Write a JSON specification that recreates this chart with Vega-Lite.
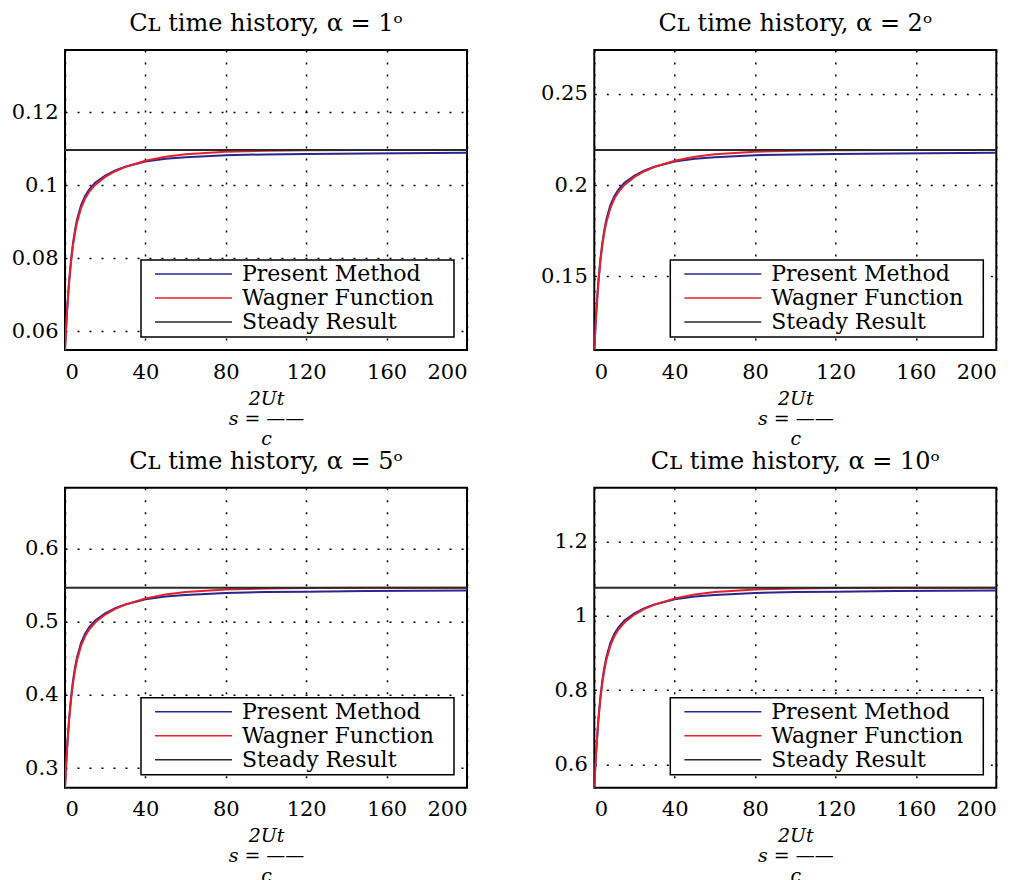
{
  "$schema": "https://vega.github.io/schema/vega-lite/v6.json",
  "background": "white",
  "padding": {"left": 10, "top": 11, "right": 5, "bottom": 0},
  "bounds": "flush",
  "columns": 2,
  "spacing": {"row": 137.7, "column": 127.3},
  "config": {
    "font": "DejaVu Serif",
    "view": {"stroke": "black", "strokeWidth": 2},
    "title": {"font": "DejaVu Serif", "fontSize": 24, "fontWeight": "normal", "color": "black", "offset": 14, "anchor": "middle"},
    "axis": {
      "labelFont": "DejaVu Serif", "labelFontSize": 21, "labelColor": "black",
      "titleFont": "DejaVu Serif", "titleFontSize": 19, "titleColor": "black", "titleFontWeight": "normal",
      "grid": true, "gridColor": "black", "gridDash": [2, 10], "gridWidth": 1.5, "gridOpacity": 1,
      "domain": false, "ticks": false
    },
    "axisX": {"labelPadding": 11},
    "axisY": {"labelPadding": 7},
    "legend": {
      "orient": "bottom-right", "offset": 13,
      "strokeColor": "black", "fillColor": "white", "strokeWidth": 1.5, "padding": 4,
      "labelFont": "DejaVu Serif", "labelFontSize": 22, "labelColor": "black", "labelLimit": 400,
      "symbolType": "M-0.79,0H1", "symbolSize": 7396, "symbolStrokeWidth": 1.5,
      "clipHeight": 20, "rowPadding": 2, "labelOffset": 9
    }
  },
  "resolve": {
    "scale": {"x": "independent", "y": "independent", "color": "independent"},
    "legend": {"color": "independent"}
  },
  "datasets": {
    "d": [
      {"a":1,"g":"Present Method","s":0,"v":0.0548},
      {"a":1,"g":"Present Method","s":0.5,"v":0.06050},
      {"a":1,"g":"Present Method","s":1,"v":0.06543},
      {"a":1,"g":"Present Method","s":2,"v":0.07343},
      {"a":1,"g":"Present Method","s":3,"v":0.07957},
      {"a":1,"g":"Present Method","s":4,"v":0.08417},
      {"a":1,"g":"Present Method","s":5,"v":0.08779},
      {"a":1,"g":"Present Method","s":6,"v":0.09053},
      {"a":1,"g":"Present Method","s":8,"v":0.09448},
      {"a":1,"g":"Present Method","s":10,"v":0.09700},
      {"a":1,"g":"Present Method","s":12,"v":0.09875},
      {"a":1,"g":"Present Method","s":15,"v":0.10061},
      {"a":1,"g":"Present Method","s":20,"v":0.10259},
      {"a":1,"g":"Present Method","s":25,"v":0.10401},
      {"a":1,"g":"Present Method","s":30,"v":0.10500},
      {"a":1,"g":"Present Method","s":40,"v":0.10642},
      {"a":1,"g":"Present Method","s":50,"v":0.10719},
      {"a":1,"g":"Present Method","s":60,"v":0.10763},
      {"a":1,"g":"Present Method","s":80,"v":0.10818},
      {"a":1,"g":"Present Method","s":100,"v":0.10839},
      {"a":1,"g":"Present Method","s":120,"v":0.10850},
      {"a":1,"g":"Present Method","s":150,"v":0.10867},
      {"a":1,"g":"Present Method","s":200,"v":0.10883},
      {"a":1,"g":"Wagner Function","s":0,"v":0.0548},
      {"a":1,"g":"Wagner Function","s":0.5,"v":0.06032},
      {"a":1,"g":"Wagner Function","s":1,"v":0.06512},
      {"a":1,"g":"Wagner Function","s":2,"v":0.07294},
      {"a":1,"g":"Wagner Function","s":3,"v":0.07890},
      {"a":1,"g":"Wagner Function","s":4,"v":0.08347},
      {"a":1,"g":"Wagner Function","s":5,"v":0.08700},
      {"a":1,"g":"Wagner Function","s":6,"v":0.08976},
      {"a":1,"g":"Wagner Function","s":8,"v":0.09371},
      {"a":1,"g":"Wagner Function","s":10,"v":0.09629},
      {"a":1,"g":"Wagner Function","s":12,"v":0.09812},
      {"a":1,"g":"Wagner Function","s":15,"v":0.10005},
      {"a":1,"g":"Wagner Function","s":20,"v":0.10223},
      {"a":1,"g":"Wagner Function","s":25,"v":0.10378},
      {"a":1,"g":"Wagner Function","s":30,"v":0.10497},
      {"a":1,"g":"Wagner Function","s":40,"v":0.10667},
      {"a":1,"g":"Wagner Function","s":50,"v":0.10774},
      {"a":1,"g":"Wagner Function","s":60,"v":0.10842},
      {"a":1,"g":"Wagner Function","s":80,"v":0.10913},
      {"a":1,"g":"Wagner Function","s":100,"v":0.10941},
      {"a":1,"g":"Wagner Function","s":120,"v":0.10952},
      {"a":1,"g":"Wagner Function","s":150,"v":0.10958},
      {"a":1,"g":"Wagner Function","s":200,"v":0.1096},
      {"a":1,"g":"Steady Result","s":0,"v":0.1096},
      {"a":1,"g":"Steady Result","s":200,"v":0.1096},

      {"a":2,"g":"Present Method","s":0,"v":0.1096},
      {"a":2,"g":"Present Method","s":0.5,"v":0.12100},
      {"a":2,"g":"Present Method","s":1,"v":0.13086},
      {"a":2,"g":"Present Method","s":2,"v":0.14686},
      {"a":2,"g":"Present Method","s":3,"v":0.15914},
      {"a":2,"g":"Present Method","s":4,"v":0.16834},
      {"a":2,"g":"Present Method","s":5,"v":0.17558},
      {"a":2,"g":"Present Method","s":6,"v":0.18106},
      {"a":2,"g":"Present Method","s":8,"v":0.18896},
      {"a":2,"g":"Present Method","s":10,"v":0.19400},
      {"a":2,"g":"Present Method","s":12,"v":0.19750},
      {"a":2,"g":"Present Method","s":15,"v":0.20122},
      {"a":2,"g":"Present Method","s":20,"v":0.20518},
      {"a":2,"g":"Present Method","s":25,"v":0.20802},
      {"a":2,"g":"Present Method","s":30,"v":0.21000},
      {"a":2,"g":"Present Method","s":40,"v":0.21284},
      {"a":2,"g":"Present Method","s":50,"v":0.21438},
      {"a":2,"g":"Present Method","s":60,"v":0.21526},
      {"a":2,"g":"Present Method","s":80,"v":0.21636},
      {"a":2,"g":"Present Method","s":100,"v":0.21678},
      {"a":2,"g":"Present Method","s":120,"v":0.21700},
      {"a":2,"g":"Present Method","s":150,"v":0.21734},
      {"a":2,"g":"Present Method","s":200,"v":0.21766},
      {"a":2,"g":"Wagner Function","s":0,"v":0.1096},
      {"a":2,"g":"Wagner Function","s":0.5,"v":0.12064},
      {"a":2,"g":"Wagner Function","s":1,"v":0.13024},
      {"a":2,"g":"Wagner Function","s":2,"v":0.14588},
      {"a":2,"g":"Wagner Function","s":3,"v":0.15780},
      {"a":2,"g":"Wagner Function","s":4,"v":0.16694},
      {"a":2,"g":"Wagner Function","s":5,"v":0.17400},
      {"a":2,"g":"Wagner Function","s":6,"v":0.17952},
      {"a":2,"g":"Wagner Function","s":8,"v":0.18742},
      {"a":2,"g":"Wagner Function","s":10,"v":0.19258},
      {"a":2,"g":"Wagner Function","s":12,"v":0.19624},
      {"a":2,"g":"Wagner Function","s":15,"v":0.20010},
      {"a":2,"g":"Wagner Function","s":20,"v":0.20446},
      {"a":2,"g":"Wagner Function","s":25,"v":0.20756},
      {"a":2,"g":"Wagner Function","s":30,"v":0.20994},
      {"a":2,"g":"Wagner Function","s":40,"v":0.21334},
      {"a":2,"g":"Wagner Function","s":50,"v":0.21548},
      {"a":2,"g":"Wagner Function","s":60,"v":0.21684},
      {"a":2,"g":"Wagner Function","s":80,"v":0.21826},
      {"a":2,"g":"Wagner Function","s":100,"v":0.21882},
      {"a":2,"g":"Wagner Function","s":120,"v":0.21904},
      {"a":2,"g":"Wagner Function","s":150,"v":0.21916},
      {"a":2,"g":"Wagner Function","s":200,"v":0.2192},
      {"a":2,"g":"Steady Result","s":0,"v":0.2192},
      {"a":2,"g":"Steady Result","s":200,"v":0.2192},

      {"a":5,"g":"Present Method","s":0,"v":0.2732},
      {"a":5,"g":"Present Method","s":0.5,"v":0.30161},
      {"a":5,"g":"Present Method","s":1,"v":0.32620},
      {"a":5,"g":"Present Method","s":2,"v":0.36609},
      {"a":5,"g":"Present Method","s":3,"v":0.39669},
      {"a":5,"g":"Present Method","s":4,"v":0.41964},
      {"a":5,"g":"Present Method","s":5,"v":0.43767},
      {"a":5,"g":"Present Method","s":6,"v":0.45133},
      {"a":5,"g":"Present Method","s":8,"v":0.47100},
      {"a":5,"g":"Present Method","s":10,"v":0.48356},
      {"a":5,"g":"Present Method","s":12,"v":0.49231},
      {"a":5,"g":"Present Method","s":15,"v":0.50160},
      {"a":5,"g":"Present Method","s":20,"v":0.51143},
      {"a":5,"g":"Present Method","s":25,"v":0.51853},
      {"a":5,"g":"Present Method","s":30,"v":0.52345},
      {"a":5,"g":"Present Method","s":40,"v":0.53055},
      {"a":5,"g":"Present Method","s":50,"v":0.53438},
      {"a":5,"g":"Present Method","s":60,"v":0.53656},
      {"a":5,"g":"Present Method","s":80,"v":0.53930},
      {"a":5,"g":"Present Method","s":100,"v":0.54039},
      {"a":5,"g":"Present Method","s":120,"v":0.54094},
      {"a":5,"g":"Present Method","s":150,"v":0.54176},
      {"a":5,"g":"Present Method","s":200,"v":0.54258},
      {"a":5,"g":"Wagner Function","s":0,"v":0.2732},
      {"a":5,"g":"Wagner Function","s":0.5,"v":0.30074},
      {"a":5,"g":"Wagner Function","s":1,"v":0.32467},
      {"a":5,"g":"Wagner Function","s":2,"v":0.36363},
      {"a":5,"g":"Wagner Function","s":3,"v":0.39335},
      {"a":5,"g":"Wagner Function","s":4,"v":0.41614},
      {"a":5,"g":"Wagner Function","s":5,"v":0.43373},
      {"a":5,"g":"Wagner Function","s":6,"v":0.44750},
      {"a":5,"g":"Wagner Function","s":8,"v":0.46717},
      {"a":5,"g":"Wagner Function","s":10,"v":0.48007},
      {"a":5,"g":"Wagner Function","s":12,"v":0.48919},
      {"a":5,"g":"Wagner Function","s":15,"v":0.49881},
      {"a":5,"g":"Wagner Function","s":20,"v":0.50968},
      {"a":5,"g":"Wagner Function","s":25,"v":0.51739},
      {"a":5,"g":"Wagner Function","s":30,"v":0.52334},
      {"a":5,"g":"Wagner Function","s":40,"v":0.53181},
      {"a":5,"g":"Wagner Function","s":50,"v":0.53711},
      {"a":5,"g":"Wagner Function","s":60,"v":0.54050},
      {"a":5,"g":"Wagner Function","s":80,"v":0.54405},
      {"a":5,"g":"Wagner Function","s":100,"v":0.54547},
      {"a":5,"g":"Wagner Function","s":120,"v":0.54602},
      {"a":5,"g":"Wagner Function","s":150,"v":0.54629},
      {"a":5,"g":"Wagner Function","s":200,"v":0.5464},
      {"a":5,"g":"Steady Result","s":0,"v":0.5464},
      {"a":5,"g":"Steady Result","s":200,"v":0.5464},

      {"a":10,"g":"Present Method","s":0,"v":0.53775},
      {"a":10,"g":"Present Method","s":0.5,"v":0.59368},
      {"a":10,"g":"Present Method","s":1,"v":0.64207},
      {"a":10,"g":"Present Method","s":2,"v":0.72059},
      {"a":10,"g":"Present Method","s":3,"v":0.78081},
      {"a":10,"g":"Present Method","s":4,"v":0.82598},
      {"a":10,"g":"Present Method","s":5,"v":0.86148},
      {"a":10,"g":"Present Method","s":6,"v":0.88836},
      {"a":10,"g":"Present Method","s":8,"v":0.92708},
      {"a":10,"g":"Present Method","s":10,"v":0.95182},
      {"a":10,"g":"Present Method","s":12,"v":0.96903},
      {"a":10,"g":"Present Method","s":15,"v":0.98731},
      {"a":10,"g":"Present Method","s":20,"v":1.00667},
      {"a":10,"g":"Present Method","s":25,"v":1.02065},
      {"a":10,"g":"Present Method","s":30,"v":1.03033},
      {"a":10,"g":"Present Method","s":40,"v":1.04431},
      {"a":10,"g":"Present Method","s":50,"v":1.05184},
      {"a":10,"g":"Present Method","s":60,"v":1.05614},
      {"a":10,"g":"Present Method","s":80,"v":1.06152},
      {"a":10,"g":"Present Method","s":100,"v":1.06367},
      {"a":10,"g":"Present Method","s":120,"v":1.06475},
      {"a":10,"g":"Present Method","s":150,"v":1.06636},
      {"a":10,"g":"Present Method","s":200,"v":1.06797},
      {"a":10,"g":"Wagner Function","s":0,"v":0.53775},
      {"a":10,"g":"Wagner Function","s":0.5,"v":0.59196},
      {"a":10,"g":"Wagner Function","s":1,"v":0.63906},
      {"a":10,"g":"Wagner Function","s":2,"v":0.71575},
      {"a":10,"g":"Wagner Function","s":3,"v":0.77425},
      {"a":10,"g":"Wagner Function","s":4,"v":0.81910},
      {"a":10,"g":"Wagner Function","s":5,"v":0.85373},
      {"a":10,"g":"Wagner Function","s":6,"v":0.88083},
      {"a":10,"g":"Wagner Function","s":8,"v":0.91955},
      {"a":10,"g":"Wagner Function","s":10,"v":0.94494},
      {"a":10,"g":"Wagner Function","s":12,"v":0.96290},
      {"a":10,"g":"Wagner Function","s":15,"v":0.98182},
      {"a":10,"g":"Wagner Function","s":20,"v":1.00323},
      {"a":10,"g":"Wagner Function","s":25,"v":1.01839},
      {"a":10,"g":"Wagner Function","s":30,"v":1.03011},
      {"a":10,"g":"Wagner Function","s":40,"v":1.04678},
      {"a":10,"g":"Wagner Function","s":50,"v":1.05722},
      {"a":10,"g":"Wagner Function","s":60,"v":1.06389},
      {"a":10,"g":"Wagner Function","s":80,"v":1.07088},
      {"a":10,"g":"Wagner Function","s":100,"v":1.07367},
      {"a":10,"g":"Wagner Function","s":120,"v":1.07475},
      {"a":10,"g":"Wagner Function","s":150,"v":1.07528},
      {"a":10,"g":"Wagner Function","s":200,"v":1.0755},
      {"a":10,"g":"Steady Result","s":0,"v":1.0755},
      {"a":10,"g":"Steady Result","s":200,"v":1.0755}
    ]
  },
  "concat": [
    {
      "title": "Cʟ time history, α = 1ᵒ",
      "width": 402, "height": 300,
      "data": {"name": "d"},
      "transform": [{"filter": "datum.a == 1"}],
      "mark": {"type": "line", "strokeWidth": 2, "clip": true},
      "encoding": {
        "x": {"field": "s", "type": "quantitative", "scale": {"domain": [0, 200], "nice": false},
              "axis": {"values": [0, 40, 80, 120, 160, 200], "format": "d", "titleFontStyle": "italic", "titleLineHeight": 20, "titlePadding": 7,
                       "title": ["\u00a0\u00a0\u00a0\u00a0\u00a0\u00a02Ut", "s = ——", "\u00a0\u00a0\u00a0\u00a0\u00a0\u00a0c"]}},
        "y": {"field": "v", "type": "quantitative", "scale": {"domain": [0.0548, 0.137], "nice": false, "zero": false},
              "axis": {"values": [0.06, 0.08, 0.1, 0.12], "format": "~g", "title": null}},
        "color": {"field": "g", "type": "nominal",
                  "scale": {"domain": ["Present Method", "Wagner Function", "Steady Result"], "range": ["#27278f", "#e8202c", "#2a2a2a"]},
                  "legend": {"title": null, "labelExpr": "datum.label + '\u2800'"}}
      }
    },
    {
      "title": "Cʟ time history, α = 2ᵒ",
      "width": 402, "height": 300,
      "data": {"name": "d"},
      "transform": [{"filter": "datum.a == 2"}],
      "mark": {"type": "line", "strokeWidth": 2, "clip": true},
      "encoding": {
        "x": {"field": "s", "type": "quantitative", "scale": {"domain": [0, 200], "nice": false},
              "axis": {"values": [0, 40, 80, 120, 160, 200], "format": "d", "titleFontStyle": "italic", "titleLineHeight": 20, "titlePadding": 7,
                       "title": ["\u00a0\u00a0\u00a0\u00a0\u00a0\u00a02Ut", "s = ——", "\u00a0\u00a0\u00a0\u00a0\u00a0\u00a0c"]}},
        "y": {"field": "v", "type": "quantitative", "scale": {"domain": [0.1096, 0.274], "nice": false, "zero": false},
              "axis": {"values": [0.15, 0.2, 0.25], "format": "~g", "title": null}},
        "color": {"field": "g", "type": "nominal",
                  "scale": {"domain": ["Present Method", "Wagner Function", "Steady Result"], "range": ["#27278f", "#e8202c", "#2a2a2a"]},
                  "legend": {"title": null, "labelExpr": "datum.label + '\u2800'"}}
      }
    },
    {
      "title": "Cʟ time history, α = 5ᵒ",
      "width": 402, "height": 300,
      "data": {"name": "d"},
      "transform": [{"filter": "datum.a == 5"}],
      "mark": {"type": "line", "strokeWidth": 2, "clip": true},
      "encoding": {
        "x": {"field": "s", "type": "quantitative", "scale": {"domain": [0, 200], "nice": false},
              "axis": {"values": [0, 40, 80, 120, 160, 200], "format": "d", "titleFontStyle": "italic", "titleLineHeight": 20, "titlePadding": 7,
                       "title": ["\u00a0\u00a0\u00a0\u00a0\u00a0\u00a02Ut", "s = ——", "\u00a0\u00a0\u00a0\u00a0\u00a0\u00a0c"]}},
        "y": {"field": "v", "type": "quantitative", "scale": {"domain": [0.2732, 0.683], "nice": false, "zero": false},
              "axis": {"values": [0.3, 0.4, 0.5, 0.6], "format": "~g", "title": null}},
        "color": {"field": "g", "type": "nominal",
                  "scale": {"domain": ["Present Method", "Wagner Function", "Steady Result"], "range": ["#27278f", "#e8202c", "#2a2a2a"]},
                  "legend": {"title": null, "labelExpr": "datum.label + '\u2800'"}}
      }
    },
    {
      "title": "Cʟ time history, α = 10ᵒ",
      "width": 402, "height": 300,
      "data": {"name": "d"},
      "transform": [{"filter": "datum.a == 10"}],
      "mark": {"type": "line", "strokeWidth": 2, "clip": true},
      "encoding": {
        "x": {"field": "s", "type": "quantitative", "scale": {"domain": [0, 200], "nice": false},
              "axis": {"values": [0, 40, 80, 120, 160, 200], "format": "d", "titleFontStyle": "italic", "titleLineHeight": 20, "titlePadding": 7,
                       "title": ["\u00a0\u00a0\u00a0\u00a0\u00a0\u00a02Ut", "s = ——", "\u00a0\u00a0\u00a0\u00a0\u00a0\u00a0c"]}},
        "y": {"field": "v", "type": "quantitative", "scale": {"domain": [0.53775, 1.3444], "nice": false, "zero": false},
              "axis": {"values": [0.6, 0.8, 1, 1.2], "format": "~g", "title": null}},
        "color": {"field": "g", "type": "nominal",
                  "scale": {"domain": ["Present Method", "Wagner Function", "Steady Result"], "range": ["#27278f", "#e8202c", "#2a2a2a"]},
                  "legend": {"title": null, "labelExpr": "datum.label + '\u2800'"}}
      }
    }
  ]
}
